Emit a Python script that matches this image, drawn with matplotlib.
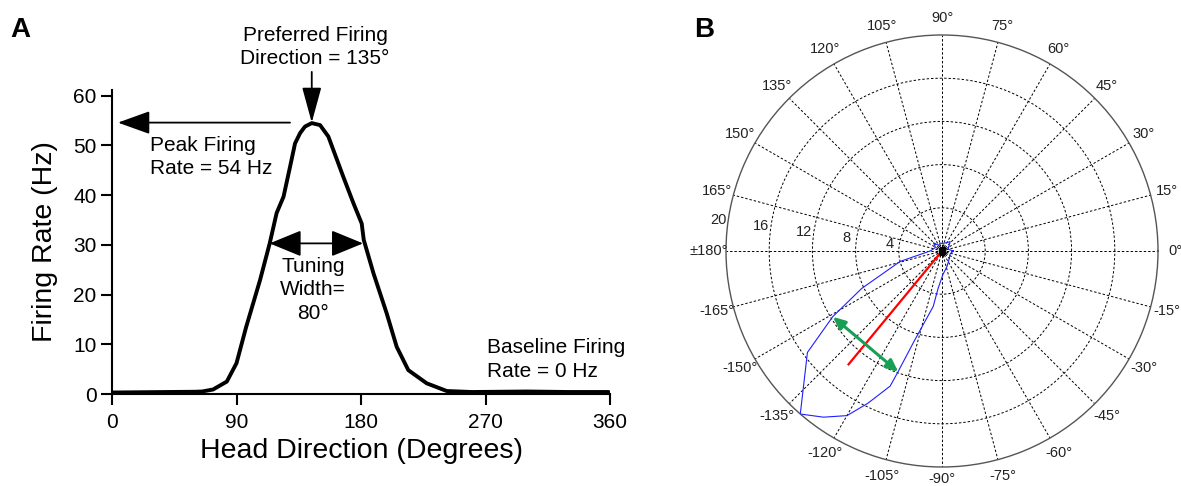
import numpy as np
import matplotlib
matplotlib.use('Agg')
import matplotlib.pyplot as plt

plt.rcParams['font.family'] = ['Liberation Sans', 'DejaVu Sans']

# Panel A: linear tuning curve (head direction in degrees, firing rate in Hz)
head_dir = [0, 20, 40, 60, 65, 73, 83, 90, 97, 107, 114, 119, 124, 128.7, 132.3,
            136, 139.5, 144.4, 150.4, 156.4, 167.2, 174.5, 180.5, 182, 189,
            198.6, 205.8, 214.2, 227.5, 242, 260, 300, 330, 359]
rate = [0.3, 0.35, 0.4, 0.45, 0.5, 0.9, 2.5, 6.2, 13.5, 22.9, 30.3, 36.4, 39.7,
        45.7, 50.4, 52.5, 53.8, 54.5, 54.1, 51.8, 43.7, 38.4, 34.3, 31.0, 24.3,
        16.2, 9.5, 4.8, 2.15, 0.6, 0.4, 0.5, 0.4, 0.4]
x_ticks = [0, 90, 180, 270, 360]
y_ticks = [0, 10, 20, 30, 40, 50, 60]

peak_dir = 144.4
peak_rate = 54.6
width_left, width_right, width_level = 113.9, 181.5, 30.3

# Panel B: polar tuning curve (angle in degrees, rate)
polar_ang = [0, 15, 30, 49, 60, 75, 90, 104, 120, 136, 150, 165, 180,
             -166, -155, -149, -143, -131, -125.5, -120, -116, -111, -110,
             -107, -99, -96, -88, -72, -45, -20, 0]
polar_r = [1.05, 0.6, 0.7, 1.15, 0.9, 0.75, 0.7, 0.75, 0.6, 1.1, 0.7, 0.8, 1.1,
           4.0, 8.2, 11.8, 15.6, 20.0, 18.9, 17.6, 15.7, 13.4, 11.9,
           8.6, 5.2, 3.5, 2.2, 1.5, 0.96, 0.8, 1.05]
mean_dir = -129.5
mean_len = 13.6
width_pts_ang = [-148.9, -109.9]
width_pts_r = [11.8, 11.9]
r_rings = [4, 8, 12, 16, 20]
theta_ticks = list(range(0, 360, 15))
theta_labels = ['0°', '15°', '30°', '45°', '60°', '75°', '90°', '105°', '120°',
                '135°', '150°', '165°', '±180°', '-165°', '-150°', '-135°',
                '-120°', '-105°', '-90°', '-75°', '-60°', '-45°', '-30°', '-15°']

W, H = 1181, 486
fig = plt.figure(figsize=(W / 100, H / 100), dpi=100)

# ---------------- Panel A ----------------
ax = fig.add_axes([112 / W, 92 / H, 498 / W, 304.2 / H])
ax.plot(head_dir, rate, color='black', lw=2.8, solid_capstyle='round')
ax.set_xlim(0, 360)
ax.set_ylim(0, 61.2)
ax.set_xticks(x_ticks)
ax.set_yticks(y_ticks)
ax.spines['top'].set_visible(False)
ax.spines['right'].set_visible(False)
for s in ['left', 'bottom']:
    ax.spines[s].set_linewidth(1.5)
ax.tick_params(direction='out', length=8, width=1.5, labelsize=15, pad=3)
ax.tick_params(axis='x', pad=6)
ax.set_xlabel('Head Direction (Degrees)', fontsize=20.5, labelpad=4)
ax.set_ylabel('Firing Rate (Hz)', fontsize=20.5, labelpad=11)

txt = dict(fontsize=15, color='black', linespacing=1.3)
ax.annotate('', xy=(peak_dir, peak_rate), xytext=(peak_dir, 64.8),
            annotation_clip=False,
            arrowprops=dict(arrowstyle='-|>,head_length=1.1,head_width=0.3',
                            mutation_scale=20, color='black', lw=1.3,
                            shrinkA=0, shrinkB=0))
ax.text(146.8, 69.8, 'Preferred Firing\nDirection = 135°', ha='center',
        va='center', clip_on=False, **txt)
ax.annotate('', xy=(4.3, peak_rate), xytext=(128.7, peak_rate),
            arrowprops=dict(arrowstyle='-|>,head_length=1.0,head_width=0.36',
                            mutation_scale=20, color='black', lw=1.3,
                            shrinkA=0, shrinkB=0))
ax.text(27.5, 47.7, 'Peak Firing\nRate = 54 Hz', ha='left', va='center', **txt)
ax.annotate('', xy=(width_right, width_level), xytext=(width_left, width_level),
            arrowprops=dict(arrowstyle='<|-|>,head_length=1.0,head_width=0.41',
                            mutation_scale=20, color='black', lw=1.3,
                            shrinkA=0, shrinkB=0))
ax.text(145.3, 21.0, 'Tuning\nWidth=\n80°', ha='center', va='center', **txt)
ax.text(271, 6.9, 'Baseline Firing\nRate = 0 Hz', ha='left', va='center', **txt)

fig.text(10 / W, 1 - 30 / H, 'A', fontsize=20, fontweight='bold',
         ha='left', va='center')
fig.text(694 / W, 1 - 30 / H, 'B', fontsize=20, fontweight='bold',
         ha='left', va='center')

# ---------------- Panel B ----------------
pax = fig.add_axes([726 / W, 19 / H, 432 / W, 432 / H], projection='polar')
pax.set_ylim(0, 20)
pax.set_xticks(np.deg2rad(theta_ticks))
pax.set_yticks(r_rings[:-1])
pax.set_xticklabels([])
pax.set_yticklabels([])
pax.grid(True, color='black', linestyle=(0, (2.5, 2)), linewidth=0.7)
pax.spines['polar'].set_color('#555555')
pax.spines['polar'].set_linewidth(1.0)
pax.tick_params(length=0)

pax.plot(np.deg2rad(polar_ang), polar_r, color='#1f1fff', lw=0.8)
pax.plot([0, np.deg2rad(mean_dir)], [0, mean_len], color='#ff0000', lw=1.6)
pax.annotate('', xy=(np.deg2rad(width_pts_ang[1]), width_pts_r[1]),
             xytext=(np.deg2rad(width_pts_ang[0]), width_pts_r[0]),
             arrowprops=dict(arrowstyle='<|-|>,head_length=0.9,head_width=0.4',
                             mutation_scale=8, color='#17a055', lw=2.2,
                             shrinkA=0, shrinkB=0))
pax.plot([0], [0], marker='s', color='black', markersize=4.5)

for ang, lab in zip(theta_ticks, theta_labels):
    rr = 21.1 if ang == 270 else 21.6
    pax.text(np.deg2rad(ang), rr, lab, ha='center', va='center',
             fontsize=10.5, color='#222222', clip_on=False)
for r in r_rings:
    pax.annotate(str(r), xy=(np.deg2rad(172), r), xytext=(-10, 1),
                 textcoords='offset pixels', ha='center', va='center',
                 fontsize=10.5, color='#222222', annotation_clip=False)

fig.savefig('out.png', dpi=100)
